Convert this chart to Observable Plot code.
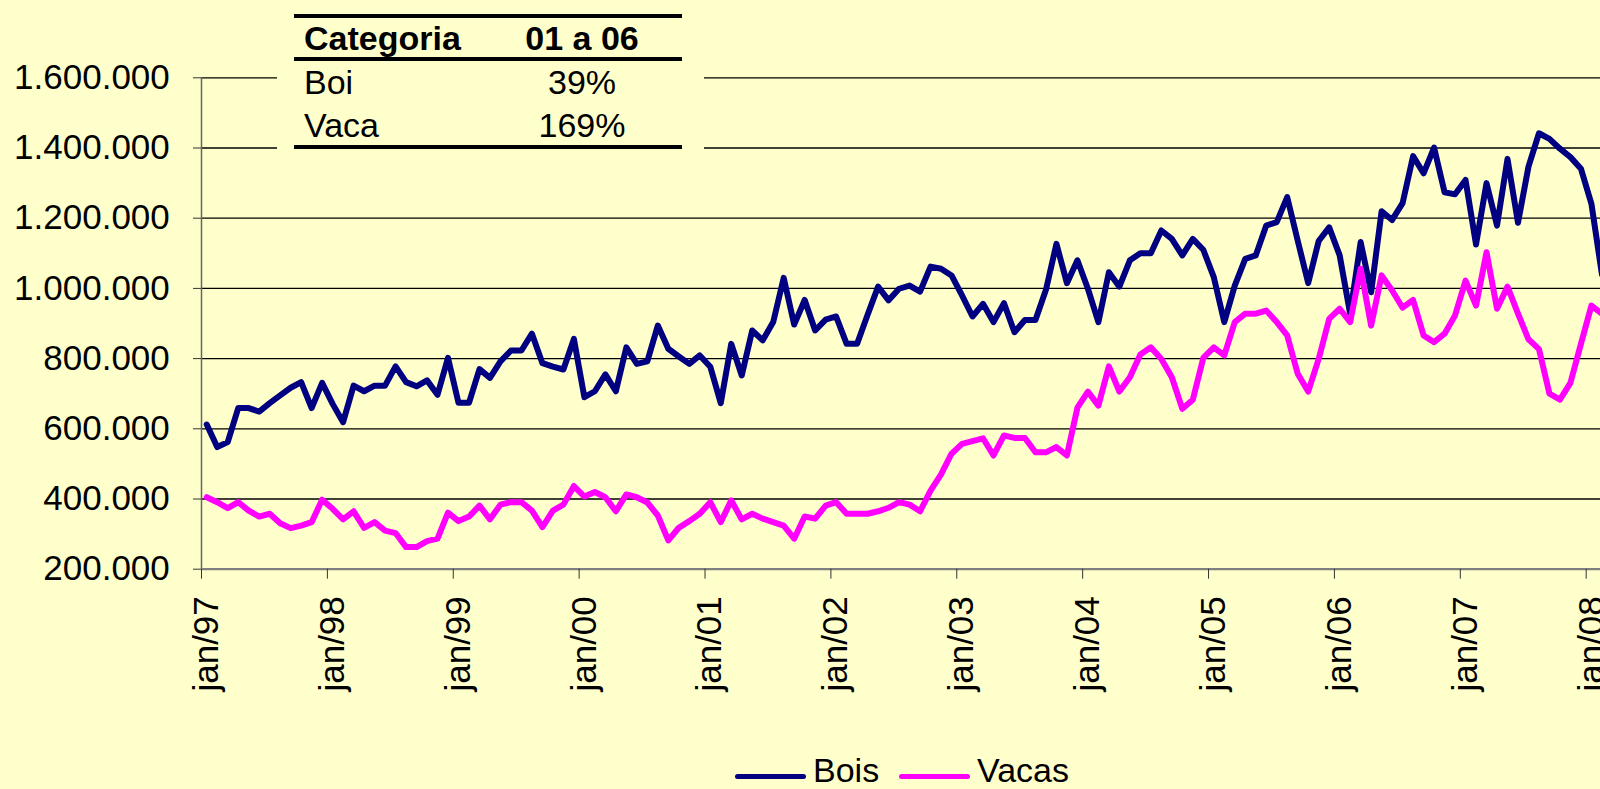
<!DOCTYPE html>
<html>
<head>
<meta charset="utf-8">
<script src="https://cdn.jsdelivr.net/npm/d3@7"></script>
<script src="https://cdn.jsdelivr.net/npm/@observablehq/plot@0.6"></script>
<style>
  html, body { margin: 0; padding: 0; background: #FFFFCC; overflow: hidden; }
  #wrap { position: relative; width: 1600px; height: 789px; background: #FFFFCC;
          font-family: "Liberation Sans", Arial, sans-serif; color: #000; overflow: hidden; }
  #chart svg { display: block; }
  .abs { position: absolute; white-space: nowrap; }
</style>
</head>
<body>
<div id="wrap">
  <div id="chart"></div>
  <div id="table"></div>
  <div id="legend"></div>
</div>
<script>
// ---------- data ----------
const startMonth = new Date(Date.UTC(1997, 0, 1));
const endMonth = new Date(Date.UTC(2008, 2, 1));
const months = d3.utcMonth.range(startMonth, endMonth); // jan/97 .. feb/08

const bois = [
  612000, 548000, 562000, 659000, 659000, 649000, 673000, 695000, 717000, 733000, 659000, 731000,
  671000, 619000, 723000, 707000, 723000, 723000, 778000, 733000, 721000, 738000, 697000, 802000,
  674000, 674000, 770000, 745000, 792000, 823000, 823000, 871000, 787000, 777000, 769000, 856000,
  690000, 707000, 755000, 707000, 832000, 785000, 792000, 894000, 828000, 806000, 785000, 809000,
  777000, 673000, 842000, 752000, 880000, 852000, 904000, 1030000, 897000, 967000, 880000, 911000,
  920000, 842000, 842000, 925000, 1005000, 966000, 999000, 1008000, 991000, 1062000, 1056000, 1037000,
  980000, 920000, 956000, 904000, 958000, 875000, 910000, 910000, 996000, 1127000, 1015000, 1080000,
  999000, 904000, 1046000, 1005000, 1080000, 1100000, 1100000, 1165000, 1141000, 1094000, 1141000, 1110000,
  1032000, 904000, 1008000, 1084000, 1094000, 1179000, 1189000, 1260000, 1136000, 1015000, 1135000, 1174000,
  1094000, 928000, 1132000, 989000, 1220000, 1195000, 1243000, 1377000, 1328000, 1401000, 1274000, 1268000,
  1309000, 1125000, 1300000, 1179000, 1369000, 1187000, 1347000, 1442000, 1426000, 1398000, 1374000, 1341000,
  1241000, 1040000
];

const vacas = [
  405000, 391000, 374000, 391000, 367000, 350000, 358000, 331000, 317000, 324000, 334000, 398000,
  372000, 342000, 365000, 318000, 334000, 310000, 303000, 263000, 263000, 280000, 287000, 361000,
  337000, 350000, 381000, 342000, 384000, 391000, 391000, 367000, 320000, 367000, 384000, 437000,
  407000, 420000, 405000, 365000, 413000, 405000, 390000, 353000, 282000, 318000, 337000, 358000,
  391000, 334000, 396000, 342000, 358000, 344000, 334000, 324000, 287000, 350000, 344000, 381000,
  391000, 358000, 358000, 358000, 365000, 375000, 391000, 384000, 365000, 424000, 470000, 529000,
  557000, 565000, 573000, 524000, 581000, 574000, 574000, 533000, 533000, 548000, 524000, 660000,
  706000, 666000, 778000, 706000, 747000, 812000, 832000, 799000, 747000, 657000, 683000, 802000,
  832000, 809000, 904000, 928000, 928000, 937000, 904000, 866000, 757000, 706000, 799000, 913000,
  942000, 904000, 1056000, 894000, 1037000, 994000, 945000, 967000, 866000, 847000, 871000, 923000,
  1022000, 951000, 1103000, 942000, 1005000, 928000, 855000, 827000, 700000, 683000, 731000, 842000,
  951000, 928000
];

const seriesNames = ["Bois", "Vacas"];
const seriesColors = ["#000080", "#FF00FF"];

const yTicks = [200000, 400000, 600000, 800000, 1000000, 1200000, 1400000, 1600000];
const xTickLabels = ["jan/97", "jan/98", "jan/99", "jan/00", "jan/01", "jan/02",
                     "jan/03", "jan/04", "jan/05", "jan/06", "jan/07", "jan/08"];

const tableHeader = ["Categoria", "01 a 06"];
const tableRows = [["Boi", "39%"], ["Vaca", "169%"]];

// ---------- build ----------
const rows = [];
months.forEach((m, i) => {
  rows.push({idx: i, date: m, series: "Bois", value: bois[i]});
  rows.push({idx: i, date: m, series: "Vacas", value: vacas[i]});
});
// category axis: one slot per month, ticks at each january boundary
const xTickPos = months.map((m, i) => m.getUTCMonth() === 0 ? i : null).filter(d => d !== null);

const ptBR = d3.formatLocale({decimal: ",", thousands: ".", grouping: [3], currency: ["R$", ""]});
const fmt = ptBR.format(",.0f");

const W = 1600, H = 745;
const mLeft = 201, mTop = 77.3, mBottom = H - 568.7;
const monthPx = 10.49;

const chart = Plot.plot({
  width: W,
  height: H,
  marginLeft: mLeft,
  marginRight: 0,
  marginTop: mTop,
  marginBottom: mBottom,
  style: {
    background: "transparent",
    fontFamily: "'Liberation Sans', Arial, sans-serif",
    fontSize: "35px",
    color: "#000",
    overflow: "hidden"
  },
  x: {domain: [0, (W - mLeft) / monthPx], axis: null},
  y: {domain: [200000, 1600000], axis: null},
  color: {domain: seriesNames, range: seriesColors},
  marks: [
    Plot.ruleY(yTicks.slice(1), {stroke: "#000", strokeWidth: 1.3}),
    Plot.ruleX([0], {stroke: "#666", strokeWidth: 1.5}),
    Plot.ruleY([200000], {stroke: "#808080", strokeWidth: 2.2}),
    Plot.axisY({ticks: yTicks, tickSize: 8, tickPadding: 23.7, tickFormat: fmt, label: null,
                stroke: "#333", fontSize: 35}),
    Plot.axisX({ticks: xTickPos, tickSize: 10, tickFormat: () => "", label: null, stroke: "#333"}),
    Plot.text(xTickLabels, {
      x: (d, i) => xTickPos[i] + 0.5,
      frameAnchor: "bottom",
      rotate: -90,
      textAnchor: "end",
      lineAnchor: "middle",
      dy: 27,
      fontSize: 35,
      fill: "#000"
    }),
    Plot.line(rows, {
      x: d => d.idx + 0.5,
      y: "value",
      z: "series",
      stroke: "series",
      strokeWidth: 6,
      strokeLinejoin: "round",
      strokeLinecap: "round",
      clip: "frame"
    })
  ]
});
document.getElementById("chart").appendChild(chart);

// ---------- table overlay ----------
const tbl = document.getElementById("table");
function addDiv(parent, style, text) {
  const d = document.createElement("div");
  d.className = "abs";
  Object.assign(d.style, style);
  if (text != null) d.textContent = text;
  parent.appendChild(d);
  return d;
}
// background mask (hides gridlines behind table, like the reference)
addDiv(tbl, {left: "277px", top: "0px", width: "427px", height: "153px", background: "#FFFFCC"});
const tLeft = 294, tWidth = 388;
[14, 57.3, 144.7].forEach(t => addDiv(tbl, {left: tLeft + "px", top: t + "px", width: tWidth + "px", height: "4px", background: "#000"}));
const fs = 34, asc = 0.8465 * fs;
const baselines = [49.3, 93.3, 136.7];
const allRows = [tableHeader, ...tableRows];
allRows.forEach((r, k) => {
  const bold = k === 0;
  addDiv(tbl, {left: "304px", top: (baselines[k] - asc) + "px", fontSize: fs + "px", lineHeight: fs + "px",
               fontWeight: bold ? "bold" : "normal"}, r[0]);
  addDiv(tbl, {left: "502px", width: "160px", textAlign: "center", top: (baselines[k] - asc) + "px",
               fontSize: fs + "px", lineHeight: fs + "px", fontWeight: bold ? "bold" : "normal"}, r[1]);
});

// ---------- legend ----------
const leg = document.getElementById("legend");
const legItems = [
  {name: seriesNames[0], color: seriesColors[0], sx: 735, tx: 813},
  {name: seriesNames[1], color: seriesColors[1], sx: 899, tx: 977}
];
const lfs = 34, llh = 28;
const lBase = 781.5;
const lOff = (llh - 1.117 * lfs) / 2 + 0.905 * lfs;
legItems.forEach(it => {
  addDiv(leg, {left: it.sx + "px", top: "773.5px", width: "71px", height: "5px", background: it.color, borderRadius: "2.5px"});
  addDiv(leg, {left: it.tx + "px", top: (lBase - lOff) + "px", fontSize: lfs + "px", lineHeight: llh + "px"}, it.name);
});
</script>
</body>
</html>
